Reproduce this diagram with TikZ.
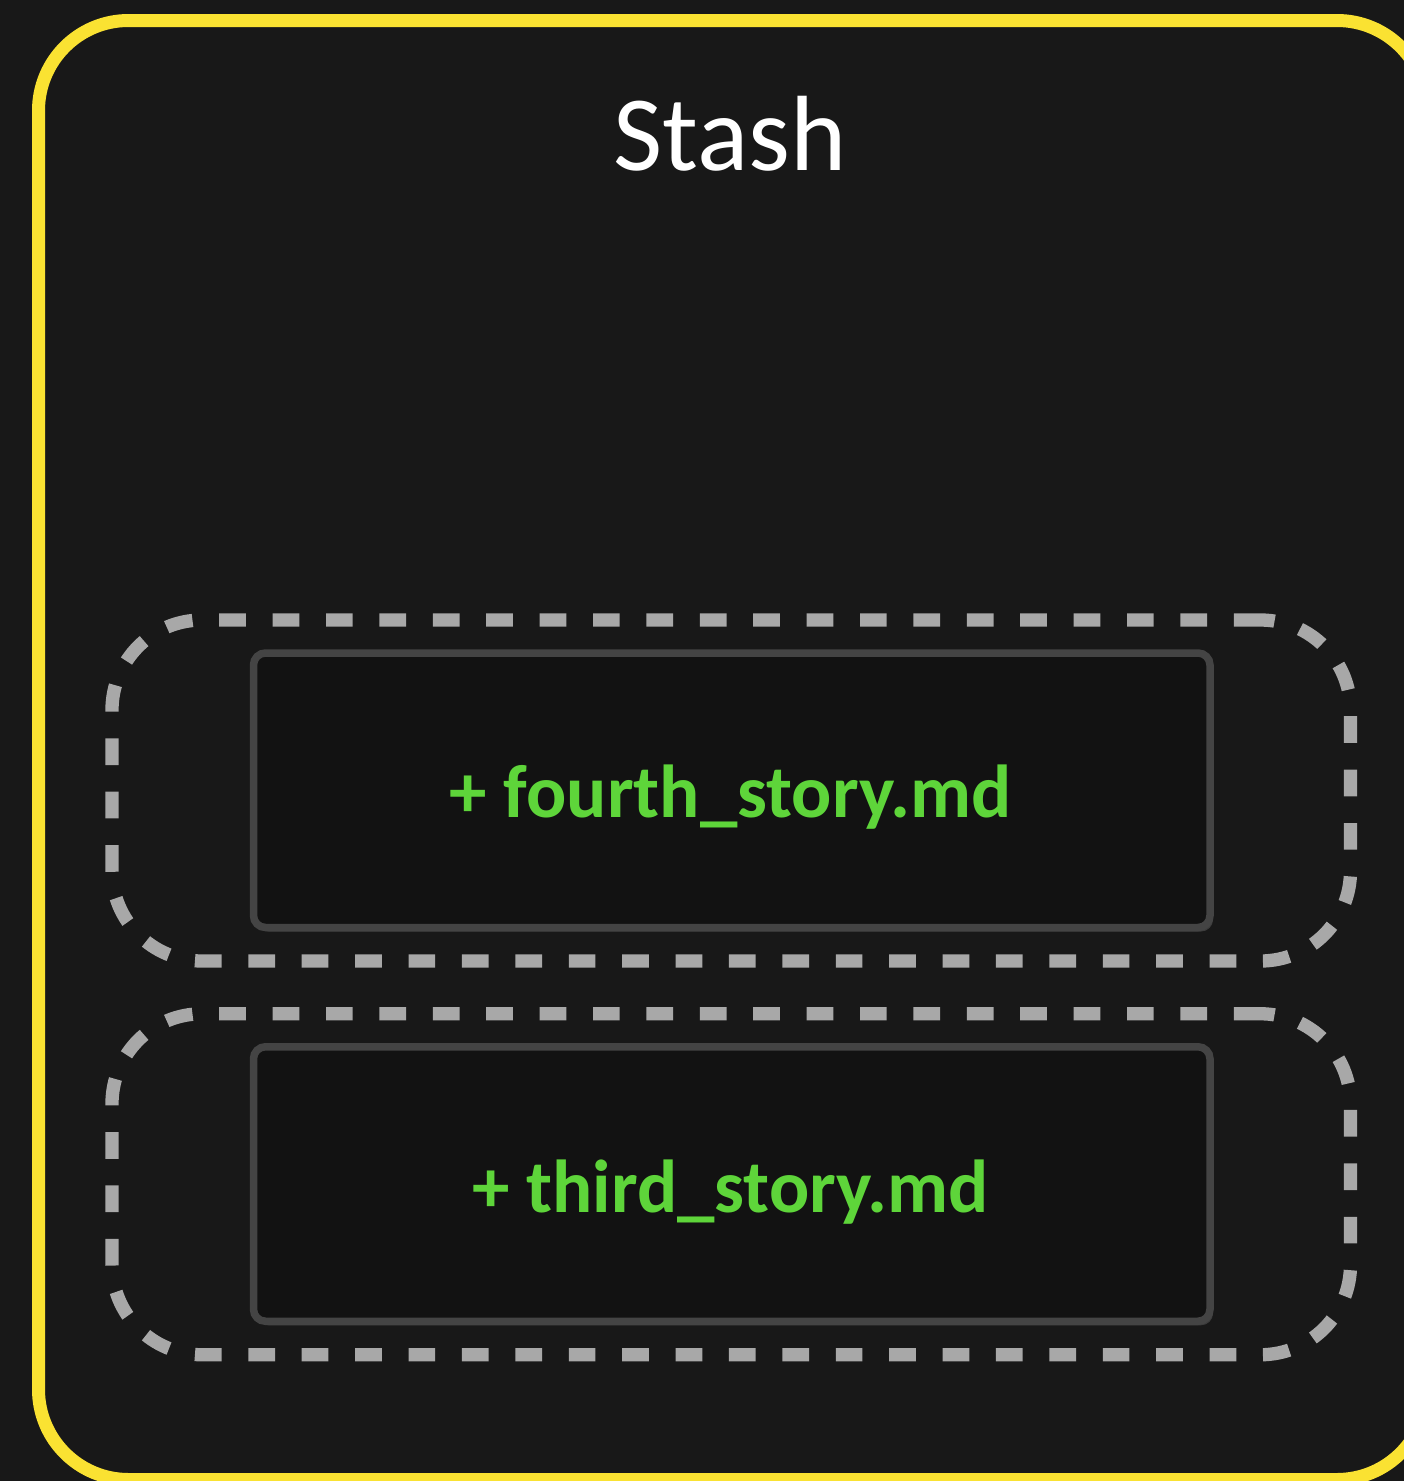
\documentclass[tikz,border=0pt]{standalone}
\usepackage{fontspec}
\setmainfont{Carlito}
\usetikzlibrary{shadows}
\definecolor{bgc}{HTML}{181818}
\definecolor{framey}{HTML}{FAE232}
\definecolor{dashg}{HTML}{A8A8A8}
\definecolor{boxfill}{HTML}{121212}
\definecolor{boxline}{HTML}{444444}
\definecolor{filegreen}{HTML}{5ED53A}
\tikzset{
  stashframe/.style={draw=framey, line width=13pt, rounded corners=90pt, inner sep=0pt, minimum width=1388.5pt, minimum height=1459pt},
  groupframe/.style={draw=dashg, line width=13.3pt, dash pattern=on 26.7pt off 26.7pt, rounded corners=90pt, inner sep=0pt, minimum width=1238.5pt, minimum height=341pt},
  filebox/.style={draw=boxline, fill=boxfill, line width=7.5pt, rounded corners=12pt, inner sep=0pt, minimum width=956.5pt, minimum height=274.5pt,
    drop shadow={opacity=0.35, shadow xshift=3pt, shadow yshift=-4pt}},
  filetext/.style={text=filegreen, font=\fontsize{75}{90}\selectfont\bfseries},
  titletext/.style={text=white, font=\fontsize{107}{125}\selectfont}
}
\begin{document}
\begin{tikzpicture}[x=1pt,y=-1pt]
\fill[bgc] (0,0) rectangle (1404,1481);
\useasboundingbox (0,0) rectangle (1404,1481);
\clip (0,0) rectangle (1404,1481);
\node[stashframe] (stash) at (732.75,750) {};
\node[titletext] (title) at (730,134) {Stash};
\node[groupframe] (g1) at (731.25,790.5) {};
\node[filebox] (b1) at (731.75,790.25) {};
\node[filetext] (t1) at (730.5,797) {+ fourth\_story.md};
\node[groupframe] (g2) at (731.25,1184.25) {};
\node[filebox] (b2) at (731.75,1184) {};
\node[filetext] (t2) at (730.5,1192) {+ third\_story.md};
\end{tikzpicture}
\end{document}
